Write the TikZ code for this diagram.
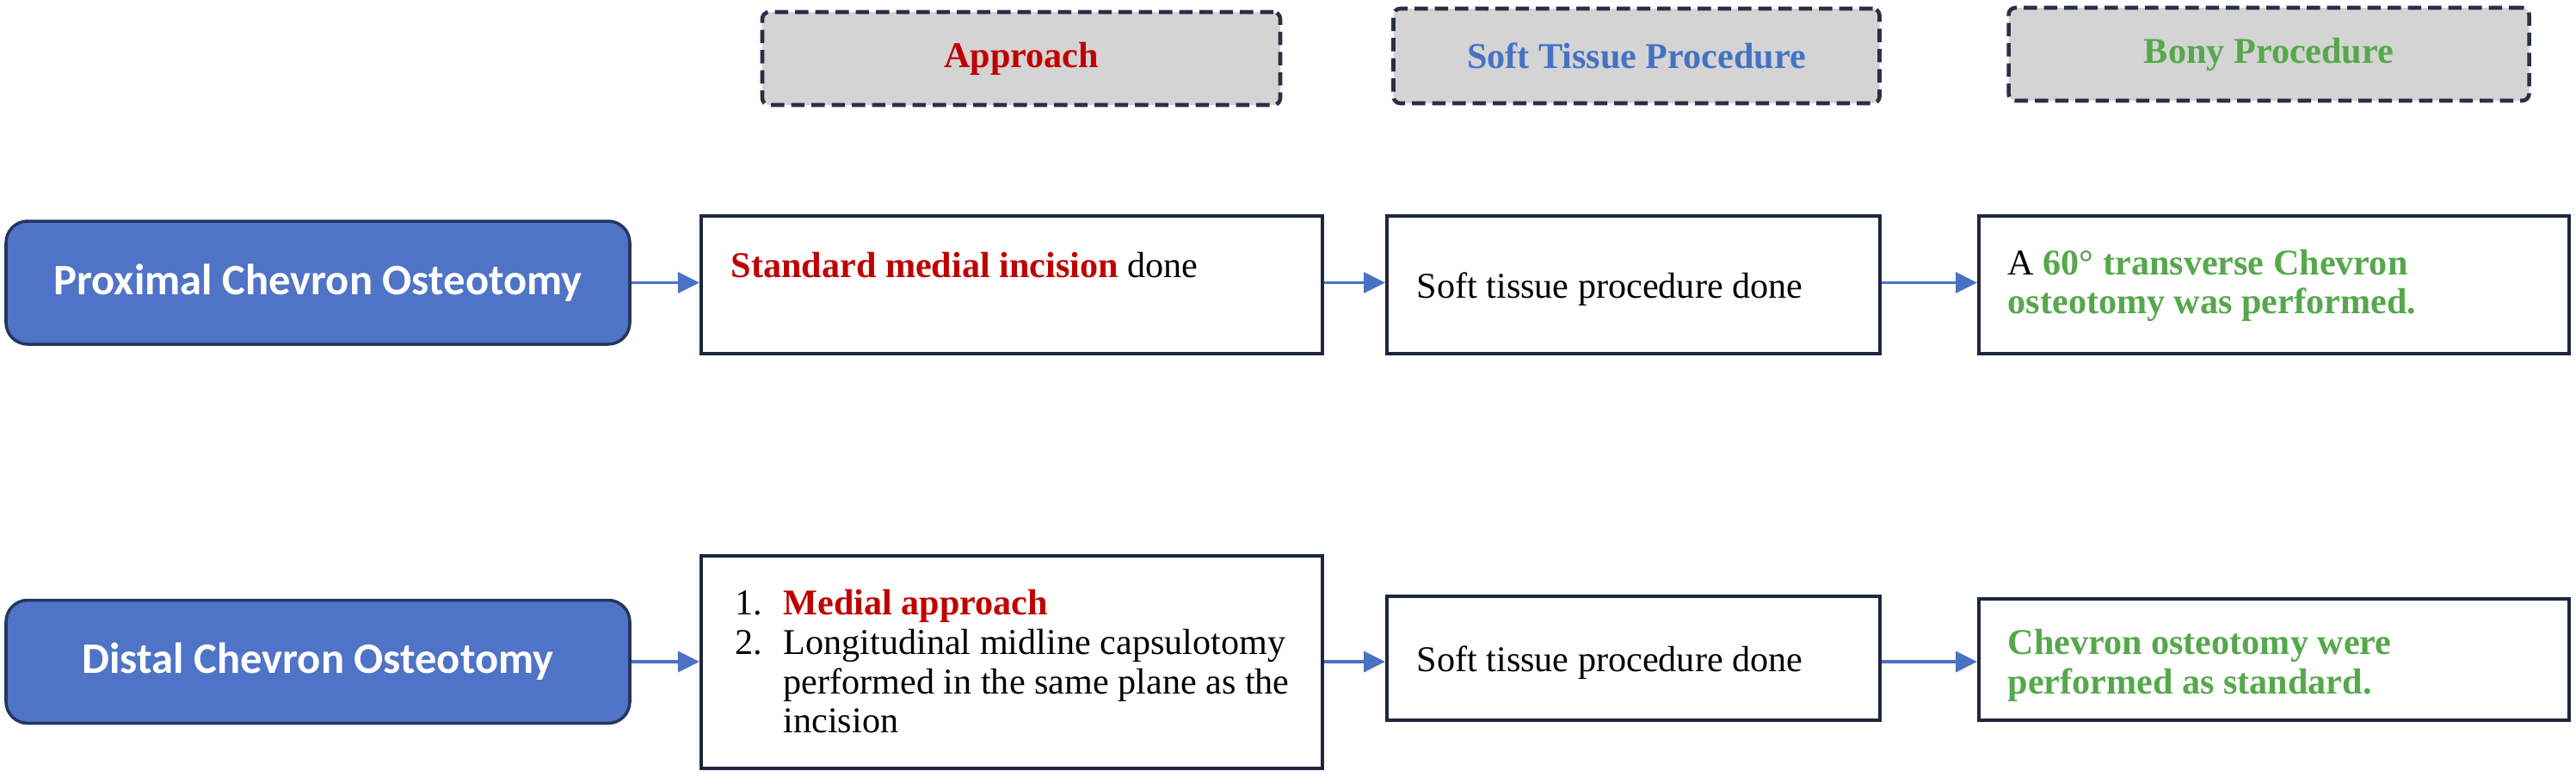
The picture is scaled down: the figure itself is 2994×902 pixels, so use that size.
\documentclass[tikz,border=0pt]{standalone}
\usepackage{fontspec}
\setmainfont{Liberation Serif}
\newfontfamily\calibri{Carlito}
\usetikzlibrary{arrows.meta}

\definecolor{osteoblue}{HTML}{4F73C6}
\definecolor{osteoline}{HTML}{24365E}
\definecolor{frameline}{HTML}{1E2740}
\definecolor{hdrgray}{HTML}{D4D4D4}
\definecolor{hdrline}{HTML}{2A2F45}
\definecolor{apred}{HTML}{C00000}
\definecolor{softblue}{HTML}{4472C4}
\definecolor{bonygreen}{HTML}{55A84B}
\definecolor{flowblue}{HTML}{4A72C4}

\newcommand{\bodyfont}{\fontsize{12}{13}\selectfont}

\tikzset{
  hdr/.style={draw=hdrline, fill=hdrgray, line width=1.3pt,
    dash pattern=on 1.55mm off 0.8mm, rounded corners=0.8mm,
    inner sep=0pt, font=\bodyfont\bfseries},
  osteo/.style={draw=osteoline, fill=osteoblue, line width=1pt,
    rounded corners=2.5mm, minimum width=72.5mm, minimum height=14.3mm,
    inner sep=0pt, text=white, font=\calibri\bfseries\fontsize{14.4}{17}\selectfont},
  frame/.style={draw=frameline, line width=1.15pt, inner sep=0pt},
  txt/.style={inner sep=0pt, align=left, anchor=west},
  flow/.style={draw=flowblue, line width=1pt, -{Triangle[length=2.5mm,width=2.4mm]}},
}

\begin{document}
\begin{tikzpicture}[x=0.1mm, y=-0.1mm, font=\bodyfont]
  \useasboundingbox (0,0) rectangle (2994,902);

  % column headers
  \node[hdr, minimum width=60.2mm, minimum height=10.8mm, text=apred] (hApp) at (1187,68) {Approach};
  \node[hdr, minimum width=56.5mm, minimum height=11mm, text=softblue] (hSoft) at (1902,65) {Soft Tissue Procedure};
  \node[hdr, minimum width=60.5mm, minimum height=10.8mm, text=bonygreen] (hBony) at (2637,63) {Bony Procedure};

  % proximal row
  \node[osteo] (prox) at (369.5,328.5) {Proximal Chevron Osteotomy};
  \node[frame, minimum width=72.2mm, minimum height=16mm] (pa) at (1176,331) {};
  \node[frame, minimum width=57.3mm, minimum height=16mm] (pb) at (1898.5,331) {};
  \node[frame, minimum width=68.6mm, minimum height=16mm] (pc) at (2643,331) {};
  \node[txt] (paText) at (849,308) {\textcolor{apred}{\bfseries Standard medial incision} done};
  \node[txt] (pbText) at (1646,336) {Soft tissue procedure done};
  \node[txt] (pcText) at (2333,332) {A \textcolor{bonygreen}{\bfseries 60° transverse Chevron}\\
    \textcolor{bonygreen}{\bfseries osteotomy was performed.}};

  % distal row
  \node[osteo] (dist) at (369.5,769) {Distal Chevron Osteotomy};
  \node[frame, minimum width=72.2mm, minimum height=24.7mm] (da) at (1176,769.5) {};
  \node[frame, minimum width=57.3mm, minimum height=14.4mm] (db) at (1898.5,765) {};
  \node[frame, minimum width=68.6mm, minimum height=14.1mm] (dc) at (2643,766.5) {};
  \node[txt] (daText) at (854,769) {\makebox[5.6mm][l]{1.}\textcolor{apred}{\bfseries Medial approach}\\
    \makebox[5.6mm][l]{2.}Longitudinal midline capsulotomy\\
    \hspace*{5.6mm}performed in the same plane as the\\
    \hspace*{5.6mm}incision};
  \node[txt] (dbText) at (1646,770) {Soft tissue procedure done};
  \node[txt] (dcText) at (2333,773) {\textcolor{bonygreen}{\bfseries Chevron osteotomy were}\\
    \textcolor{bonygreen}{\bfseries performed as standard.}};

  % connectors
  \draw[flow] (prox.east) -- (prox.east -| pa.west);
  \draw[flow] (pa.east |- prox.east) -- (pb.west |- prox.east);
  \draw[flow] (pb.east |- prox.east) -- (pc.west |- prox.east);
  \draw[flow] (dist.east) -- (dist.east -| da.west);
  \draw[flow] (da.east |- dist.east) -- (db.west |- dist.east);
  \draw[flow] (db.east |- dist.east) -- (dc.west |- dist.east);
\end{tikzpicture}
\end{document}
